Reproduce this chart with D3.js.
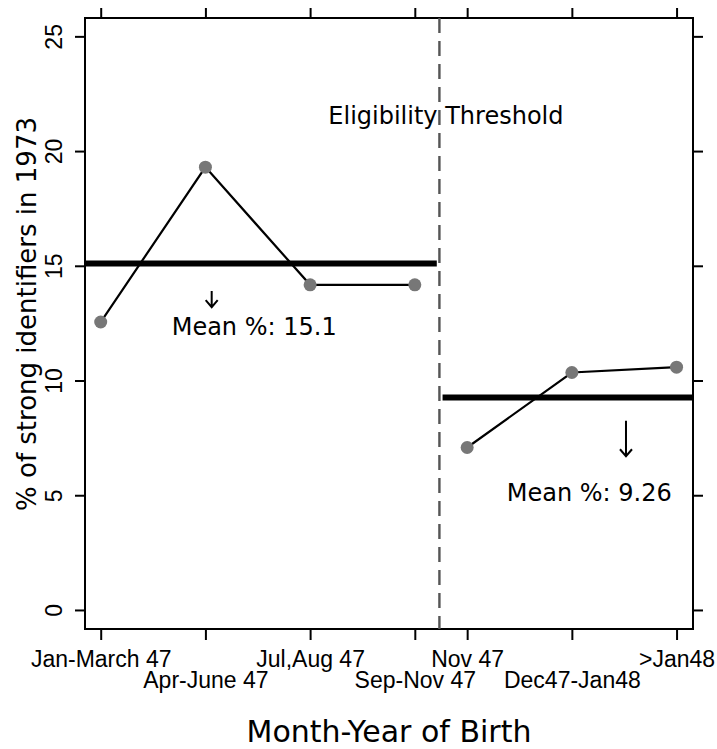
<!DOCTYPE html>
<meta charset="utf-8">
<style>
  body { margin: 0; background: #fff; }
  svg { display: block; font-family: "DejaVu Sans", sans-serif; }
  .axis text { font-size: 23px; fill: #000; }
  .axis line { stroke: #000; stroke-width: 2px; }
  .axis path { display: none; }
  .frame { fill: none; stroke: #000; stroke-width: 2px; }
  .series { fill: none; stroke: #000; stroke-width: 2.2px; }
  .mean-line { stroke: #000; stroke-width: 6px; }
  .threshold { stroke: #555; stroke-width: 2.4px; stroke-dasharray: 15,8; }
  .dot { fill: #777; }
  .note { font-size: 24px; fill: #000; }
  .arrow { fill: none; stroke: #000; stroke-width: 2px; }
</style>

<body>
  <script src="https://cdn.jsdelivr.net/npm/d3@7"></script>
  <script>

    // data
    var periods = ["Jan-March 47", "Apr-June 47", "Jul,Aug 47", "Sep-Nov 47", "Nov 47", "Dec47-Jan48", ">Jan48"];
    var periodPos = [1, 2, 3, 4, 4.5, 5.5, 6.5];
    var strongPct = [12.55, 19.3, 14.17, 14.17, 7.08, 10.35, 10.58];
    var groupMeans = [15.1, 9.26];
    var meanLabels = ["Mean %: 15.1", "Mean %: 9.26"];
    var thresholdPos = 4.235;
    var yTicks = [0, 5, 10, 15, 20, 25];

    var margin = {top: 18, right: 24, bottom: 120, left: 85};
    var width = 717 - margin.left - margin.right;
    var height = 749 - margin.top - margin.bottom;

    var x = d3.scaleLinear().domain([0.85, 6.657]).range([0, width]);
    var y = d3.scaleLinear().domain([-0.83, 25.8]).range([height, 0]);

    var svg = d3.select("body").append("svg")
      .attr("width", 717)
      .attr("height", 749)
      .append("g")
      .attr("transform", "translate(" + margin.left + "," + margin.top + ")");

    // axes: ticks on all four sides, labels left and bottom
    svg.append("g")
      .attr("class", "axis")
      .call(d3.axisLeft(y).tickValues(yTicks).tickSize(10).tickPadding(0))
      .selectAll("text")
      .attr("transform", "rotate(-90)")
      .attr("x", 0)
      .attr("y", -23)
      .attr("dy", 0)
      .attr("text-anchor", "middle");

    svg.append("g")
      .attr("class", "axis")
      .attr("transform", "translate(" + width + ",0)")
      .call(d3.axisRight(y).tickValues(yTicks).tickSize(10).tickFormat(""));

    svg.append("g")
      .attr("class", "axis")
      .call(d3.axisTop(x).tickValues(periodPos).tickSize(10).tickFormat(""));

    var xAxis = svg.append("g")
      .attr("class", "axis")
      .attr("transform", "translate(0," + height + ")")
      .call(d3.axisBottom(x).tickValues(periodPos).tickSize(11)
        .tickFormat(function(d, i) { return periods[i]; }));

    xAxis.selectAll("text")
      .attr("dy", 0)
      .attr("y", function(d, i) { return i % 2 === 0 ? 38 : 59; });

    svg.append("rect")
      .attr("class", "frame")
      .attr("width", width)
      .attr("height", height);

    // eligibility threshold
    svg.append("line")
      .attr("class", "threshold")
      .attr("x1", x(thresholdPos)).attr("x2", x(thresholdPos))
      .attr("y1", 0).attr("y2", height);

    svg.append("text")
      .attr("class", "note")
      .attr("x", x(3.174))
      .attr("y", y(21.2))
      .text("Eligibility Threshold");

    // group means
    var meanSpans = [[x.domain()[0], 4.21], [4.265, x.domain()[1]]];
    svg.selectAll(".mean-line")
      .data(groupMeans)
      .enter().append("line")
      .attr("class", "mean-line")
      .attr("x1", function(d, i) { return x(meanSpans[i][0]); })
      .attr("x2", function(d, i) { return x(meanSpans[i][1]); })
      .attr("y1", function(d) { return y(d); })
      .attr("y2", function(d) { return y(d); });

    // arrows and mean labels
    var arrows = [{x: 2.06, y0: 13.9, y1: 13.2}, {x: 6.017, y0: 8.25, y1: 6.7}];
    arrows.forEach(function(a) {
      var ax = x(a.x), ay0 = y(a.y0), ay1 = y(a.y1);
      svg.append("path")
        .attr("class", "arrow")
        .attr("d", "M" + ax + "," + ay0 + "V" + ay1 +
          "M" + (ax - 6) + "," + (ay1 - 7) + "L" + ax + "," + ay1 + "L" + (ax + 6) + "," + (ay1 - 7));
    });

    var labelPos = [{x: 1.678, y: 11.99}, {x: 4.878, y: 4.77}];
    svg.selectAll(".mean-label")
      .data(meanLabels)
      .enter().append("text")
      .attr("class", "note mean-label")
      .attr("x", function(d, i) { return x(labelPos[i].x); })
      .attr("y", function(d, i) { return y(labelPos[i].y); })
      .text(function(d) { return d; });

    // the series, drawn as two segments either side of the threshold
    var pts = periodPos.map(function(p, i) { return {pos: p, pct: strongPct[i]}; });
    var line = d3.line()
      .x(function(d) { return x(d.pos); })
      .y(function(d) { return y(d.pct); });

    [pts.slice(0, 4), pts.slice(4)].forEach(function(seg) {
      svg.append("path")
        .datum(seg)
        .attr("class", "series")
        .attr("d", line);
    });

    svg.selectAll(".dot")
      .data(pts)
      .enter().append("circle")
      .attr("class", "dot")
      .attr("cx", function(d) { return x(d.pos); })
      .attr("cy", function(d) { return y(d.pct); })
      .attr("r", 6.5);

    // axis titles
    svg.append("text")
      .attr("transform", "translate(" + (36 - margin.left) + "," + (314 - margin.top) + ") rotate(-90)")
      .attr("text-anchor", "middle")
      .style("font-size", "26px")
      .text("% of strong identifiers in 1973");

    svg.append("text")
      .attr("x", width / 2)
      .attr("y", 741.7 - margin.top)
      .attr("text-anchor", "middle")
      .style("font-size", "30px")
      .text("Month-Year of Birth");

  </script>
</body>
